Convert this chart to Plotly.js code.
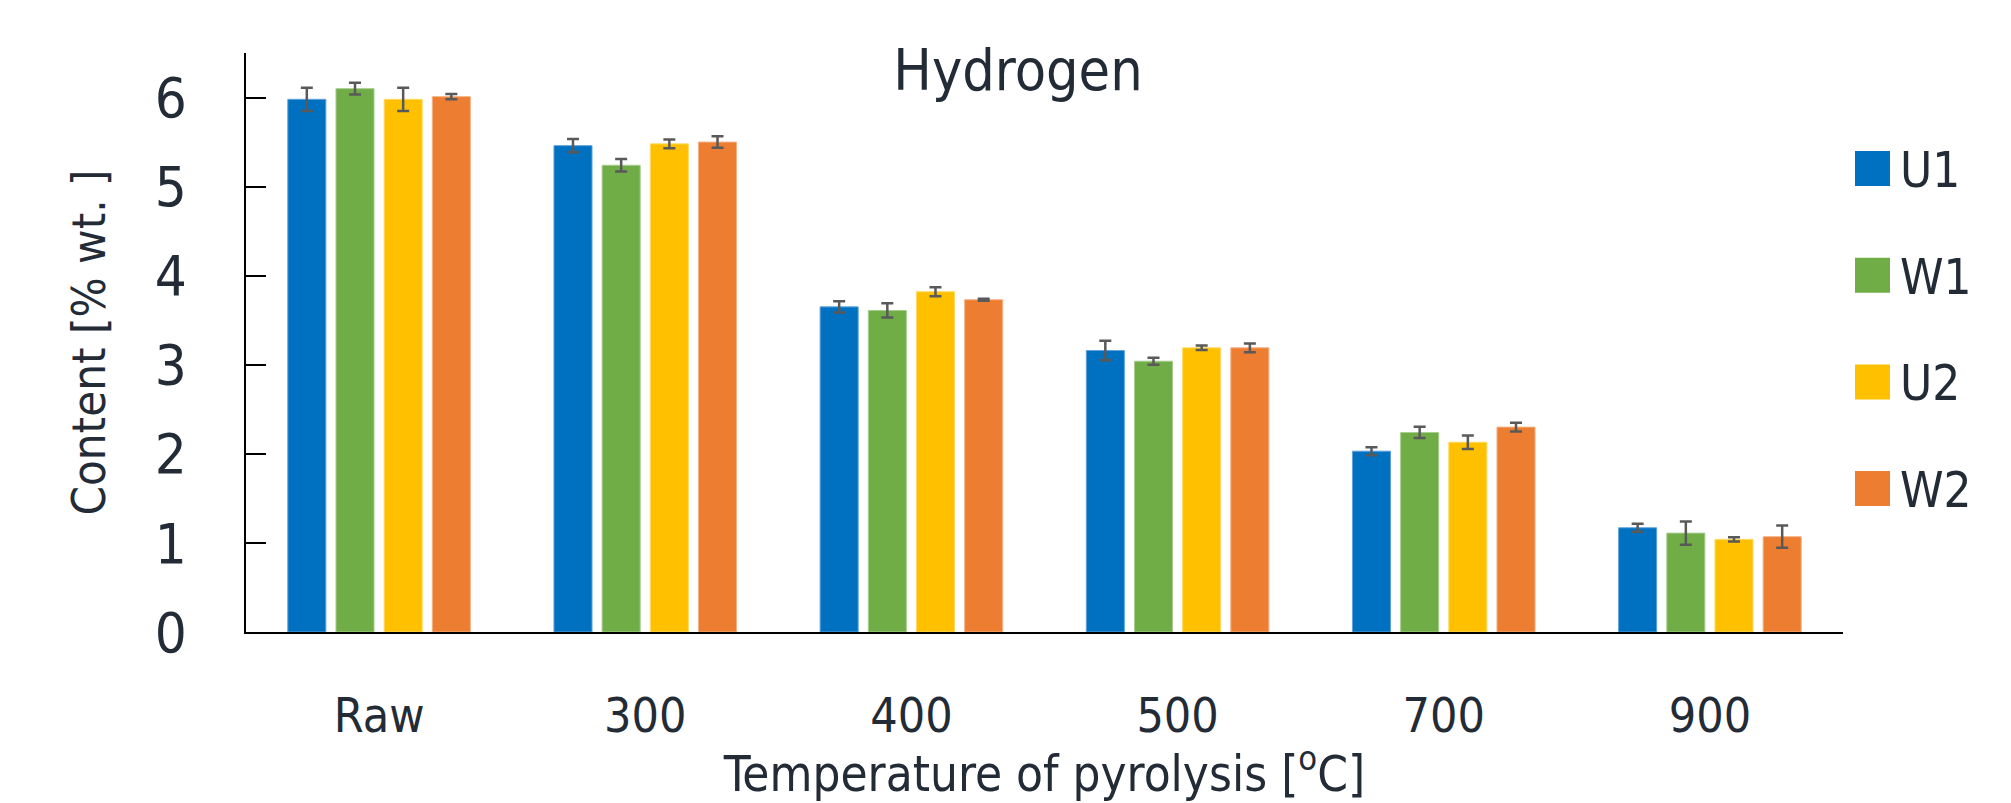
<!DOCTYPE html>
<html>
<head>
<meta charset="utf-8">
<script src="https://cdn.plot.ly/plotly-3.0.1.min.js"></script>
<style>html,body{margin:0;padding:0;background:#fff;}#chart{width:2011px;height:803px;}</style>
</head>
<body>
<div id="chart"></div>
<script>
// ---- data ----
var categories = ['Raw', '300', '400', '500', '700', '900'];
var seriesNames = ['U1', 'W1', 'U2', 'W2'];
var U1 = [5.98, 5.46, 3.65, 3.16, 2.03, 1.17];
var W1 = [6.10, 5.24, 3.61, 3.04, 2.24, 1.11];
var U2 = [5.98, 5.48, 3.82, 3.19, 2.13, 1.04];
var W2 = [6.01, 5.50, 3.73, 3.19, 2.30, 1.07];
var U1err = [0.13, 0.075, 0.063, 0.11, 0.045, 0.045];
var W1err = [0.065, 0.07, 0.08, 0.04, 0.063, 0.13];
var U2err = [0.13, 0.05, 0.05, 0.025, 0.075, 0.025];
var W2err = [0.03, 0.065, 0.01, 0.05, 0.05, 0.125];
var yTicks = [0, 1, 2, 3, 4, 5, 6];

// ---- style ----
var colors = ['#0070C0', '#70AD47', '#FFC000', '#ED7D31'];
var edge = ['#5fa3dc', '#a7cd8f', '#ffd966', '#f4b183'];
var FONT = 'DejaVu Sans Condensed, Liberation Sans Narrow, sans-serif';
var TXT = '#232b36';

var values = [U1, W1, U2, W2];
var errs = [U1err, W1err, U2err, W2err];

var W = 2011, H = 803;
var L = 246, R = 168, T = 53, B = 171;
var plotW = W - L - R, plotH = H - T - B;

var traces = seriesNames.map(function (name, i) {
  return {
    type: 'bar',
    name: name,
    x: categories,
    y: values[i],
    marker: {color: colors[i], line: {color: edge[i], width: 1}},
    error_y: {type: 'data', array: errs[i], visible: true, color: '#595959', thickness: 2.5, width: 6},
    showlegend: false,
    hoverinfo: 'x+y+name'
  };
});

// manual legend (large squares like the reference)
function px2x(px) { return (px - L) / plotW; }
function py2y(py) { return (H - B - py) / plotH; }
var legendTop = 168.5, legendStep = 106.7;
var shapes = [], annotations = [];
seriesNames.forEach(function (name, i) {
  var cy = legendTop + i * legendStep;
  shapes.push({
    type: 'rect', xref: 'paper', yref: 'paper',
    x0: px2x(1855), x1: px2x(1890), y0: py2y(cy + 17.5), y1: py2y(cy - 17.5),
    fillcolor: colors[i], line: {width: 0}
  });
  annotations.push({
    xref: 'paper', yref: 'paper', x: px2x(1898), y: py2y(cy + 2),
    xanchor: 'left', yanchor: 'middle', showarrow: false,
    text: name, font: {family: FONT, size: 49, color: TXT}
  });
});

var layout = {
  width: W, height: H,
  margin: {l: L, r: R, t: T, b: B, pad: 0},
  paper_bgcolor: '#ffffff', plot_bgcolor: '#ffffff',
  font: {family: FONT, color: TXT},
  title: {
    text: 'Hydrogen', font: {family: FONT, size: 57, color: TXT},
    x: 1018 / W, xref: 'container', xanchor: 'center',
    y: 1 - 70 / H, yref: 'container', yanchor: 'middle'
  },
  barmode: 'group', bargap: 0.276, bargroupgap: 0.21,
  xaxis: {
    type: 'category', range: [-0.5, 5.5],
    showline: true, linecolor: '#000', linewidth: 2,
    ticks: '', showgrid: false, zeroline: false,
    tickfont: {family: FONT, size: 48, color: TXT},
    ticklabelstandoff: 40,
    title: {text: 'Temperature of pyrolysis [<sup>o</sup>C]', font: {family: FONT, size: 49, color: TXT}, standoff: 2}
  },
  yaxis: {
    range: [0, 6.5], tickvals: yTicks, ticktext: yTicks.map(String),
    showline: true, linecolor: '#000', linewidth: 2,
    ticks: 'inside', ticklen: 20, tickwidth: 2, tickcolor: '#000',
    showgrid: false, zeroline: false,
    tickfont: {family: FONT, size: 56, color: TXT},
    ticklabelstandoff: 46,
    title: {text: 'Content [% wt. ]', font: {family: FONT, size: 47, color: TXT}, standoff: 34}
  },
  shapes: shapes,
  annotations: annotations,
  showlegend: false
};

Plotly.newPlot('chart', traces, layout, {staticPlot: true, displayModeBar: false});
</script>
</body>
</html>
